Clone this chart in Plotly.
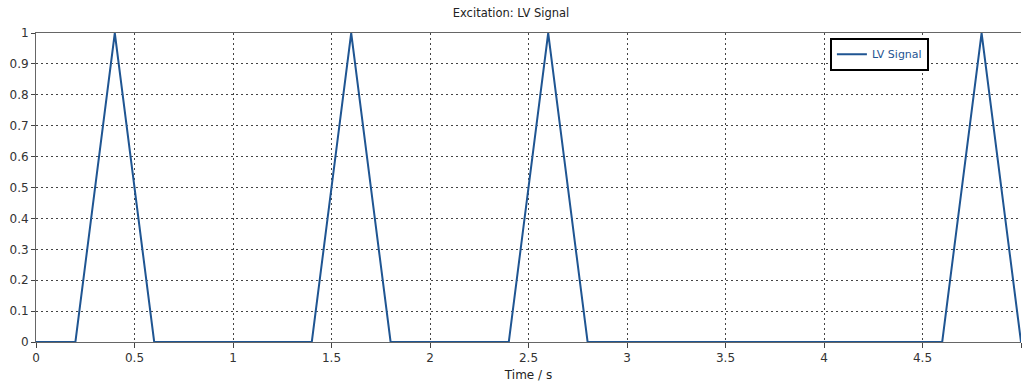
import plotly.graph_objects as go

time_s = [0, 0.2, 0.4, 0.6, 1.4, 1.6, 1.8, 2.4, 2.6, 2.8, 4.6, 4.8, 5.0]
lv_signal = [0, 0, 1, 0, 0, 1, 0, 0, 1, 0, 0, 1, 0]

x_ticks = [0, 0.5, 1, 1.5, 2, 2.5, 3, 3.5, 4, 4.5, 5]
y_ticks = [0, 0.1, 0.2, 0.3, 0.4, 0.5, 0.6, 0.7, 0.8, 0.9, 1]

font_family = "Verdana, DejaVu Sans, sans-serif"

fig = go.Figure()
fig.add_trace(go.Scatter(
    x=time_s, y=lv_signal, mode="lines", name="LV Signal",
    line=dict(color="#1f5592", width=2),
))

fig.update_layout(
    width=1022, height=385,
    margin=dict(l=36, r=1, t=33, b=43),
    paper_bgcolor="white", plot_bgcolor="white",
    font=dict(family=font_family, size=12, color="#333333"),
    title=dict(text="Excitation: LV Signal", x=0.5, xanchor="center",
               y=1 - 13 / 385, yanchor="middle",
               font=dict(family=font_family, size=11.5, color="#222222")),
    showlegend=True,
    legend=dict(x=0.806, y=0.985, xanchor="left", yanchor="top",
                bgcolor="white", bordercolor="black", borderwidth=2,
                font=dict(family=font_family, size=11, color="#1f5592"),
                itemwidth=30),
)

fig.update_xaxes(
    range=[0, 5], tickvals=x_ticks, ticktext=[f"{v:g}" for v in x_ticks],
    showgrid=True, gridcolor="#444444", griddash="2px,3px", gridwidth=1,
    showline=True, linecolor="#666666", linewidth=1, mirror=True,
    ticks="outside", ticklen=5, tickcolor="#444444",
    zeroline=False,
    title=dict(text="Time / s", font=dict(family=font_family, size=12, color="#222222"), standoff=6),
)
fig.update_yaxes(
    range=[0, 1], tickvals=y_ticks, ticktext=[f"{v:g}" for v in y_ticks],
    showgrid=True, gridcolor="#444444", griddash="2px,3px", gridwidth=1,
    showline=True, linecolor="#666666", linewidth=1,
    ticks="outside", ticklen=4, tickcolor="#444444",
    zeroline=False,
)

fig.write_html("out.html")
